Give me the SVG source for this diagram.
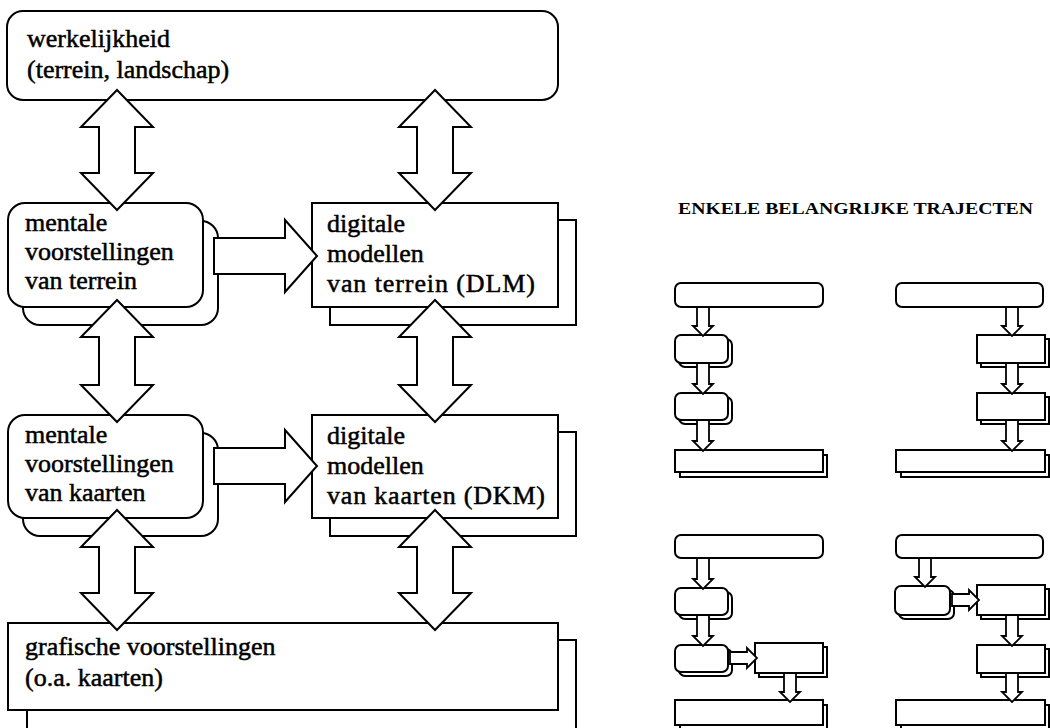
<svg xmlns="http://www.w3.org/2000/svg" width="1050" height="728" viewBox="0 0 1050 728">
  <style>
    .box { fill: #fff; stroke: #000; stroke-width: 2; }
    .arr { fill: #fff; stroke: #000; stroke-width: 2; stroke-linejoin: miter; }
    .mini { fill: #fff; stroke: #000; stroke-width: 2; }
    .marr { fill: #fff; stroke: #000; stroke-width: 1.8; stroke-linejoin: miter; }
    .t { font-family: "Liberation Serif", "Times New Roman", serif; font-size: 26px; fill: #000; stroke: #000; stroke-width: 0.5; }
    .title { font-family: "Liberation Serif", "Times New Roman", serif; font-size: 16px; font-weight: bold; fill: #000; }
  </style>
  <rect width="1050" height="728" fill="#fff"/>

  <!-- main scheme: nodes -->
  <g id="werkelijkheid">
    <rect class="box" x="7" y="11" width="551" height="89" rx="16"/>
    <text class="t" x="27" y="47">werkelijkheid</text>
    <text class="t" x="27" y="78">(terrein, landschap)</text>
  </g>

  <g id="mentaal-terrein">
    <rect class="box" x="23" y="221" width="195" height="104" rx="17"/>
    <rect class="box" x="8" y="203" width="195" height="104" rx="17"/>
    <text class="t" x="25" y="231">mentale</text>
    <text class="t" x="25" y="260">voorstellingen</text>
    <text class="t" x="25" y="289">van terrein</text>
  </g>

  <g id="dlm">
    <rect class="box" x="330" y="220" width="246" height="105"/>
    <rect class="box" x="312" y="203" width="246" height="104"/>
    <text class="t" x="327" y="232">digitale</text>
    <text class="t" x="327" y="262">modellen</text>
    <text class="t" x="327" y="292" textLength="208">van terrein (DLM)</text>
  </g>

  <g id="mentaal-kaarten">
    <rect class="box" x="23" y="433" width="195" height="103" rx="17"/>
    <rect class="box" x="8" y="415" width="195" height="103" rx="17"/>
    <text class="t" x="25" y="443">mentale</text>
    <text class="t" x="25" y="472">voorstellingen</text>
    <text class="t" x="25" y="501">van kaarten</text>
  </g>

  <g id="dkm">
    <rect class="box" x="330" y="432" width="246" height="104"/>
    <rect class="box" x="312" y="415" width="246" height="103"/>
    <text class="t" x="327" y="444">digitale</text>
    <text class="t" x="327" y="474">modellen</text>
    <text class="t" x="327" y="504" textLength="218">van kaarten (DKM)</text>
  </g>

  <g id="grafisch">
    <rect class="box" x="27" y="640" width="549" height="110"/>
    <rect class="box" x="8" y="623" width="550" height="87"/>
    <text class="t" x="25" y="655">grafische voorstellingen</text>
    <text class="t" x="25" y="686">(o.a. kaarten)</text>
  </g>

  <!-- main scheme: block arrows -->
  <g id="connectors">
    <path class="arr" d="M117,90 L153,127 L135,127 L135,173 L153,173 L117,210 L81,173 L99,173 L99,127 L81,127 Z"/>
    <path class="arr" d="M435,90 L471,127 L453,127 L453,173 L471,173 L435,210 L399,173 L417,173 L417,127 L399,127 Z"/>
    <path class="arr" d="M117,300 L153,337 L135,337 L135,385 L153,385 L117,422 L81,385 L99,385 L99,337 L81,337 Z"/>
    <path class="arr" d="M435,300 L471,337 L453,337 L453,385 L471,385 L435,422 L399,385 L417,385 L417,337 L399,337 Z"/>
    <path class="arr" d="M117,510 L153,547 L135,547 L135,593 L153,593 L117,630 L81,593 L99,593 L99,547 L81,547 Z"/>
    <path class="arr" d="M435,510 L471,547 L453,547 L453,593 L471,593 L435,630 L399,593 L417,593 L417,547 L399,547 Z"/>
    <path class="arr" d="M214,238 L285,238 L285,220 L317,256 L285,292 L285,274 L214,274 Z"/>
    <path class="arr" d="M214,448 L285,448 L285,430 L317,466 L285,502 L285,484 L214,484 Z"/>
  </g>

  <!-- legend -->
  <text id="trajecten-titel" class="title" x="678" y="214" textLength="355" lengthAdjust="spacingAndGlyphs">ENKELE BELANGRIJKE TRAJECTEN</text>

  <!-- route 1: terrain -> mental -> mental map -> graphic -->
  <g id="traject-1">
    <rect class="mini" x="675" y="283" width="148" height="24" rx="6"/>
    <rect class="mini" x="679" y="339" width="53" height="28" rx="6"/>
    <rect class="mini" x="675" y="335" width="53" height="28" rx="6"/>
    <rect class="mini" x="679" y="397" width="53" height="27" rx="6"/>
    <rect class="mini" x="675" y="393" width="53" height="27" rx="6"/>
    <rect class="mini" x="680" y="455" width="147" height="22"/>
    <rect class="mini" x="675" y="450" width="148" height="22"/>
    <path class="marr" d="M697,307 L709,307 L709,326 L713,326 L703,336 L693,326 L697,326 Z"/>
    <path class="marr" d="M697,363 L709,363 L709,384 L713,384 L703,394 L693,384 L697,384 Z"/>
    <path class="marr" d="M697,420 L709,420 L709,441 L713,441 L703,451 L693,441 L697,441 Z"/>
  </g>

  <!-- route 2: terrain -> DLM -> DKM -> graphic -->
  <g id="traject-2">
    <rect class="mini" x="896" y="283" width="147" height="24" rx="6"/>
    <rect class="mini" x="981" y="339" width="68" height="28"/>
    <rect class="mini" x="977" y="335" width="68" height="28"/>
    <rect class="mini" x="981" y="397" width="68" height="27"/>
    <rect class="mini" x="977" y="393" width="68" height="27"/>
    <rect class="mini" x="901" y="455" width="148" height="22"/>
    <rect class="mini" x="896" y="450" width="149" height="22"/>
    <path class="marr" d="M1006,307 L1018,307 L1018,326 L1022,326 L1012,336 L1002,326 L1006,326 Z"/>
    <path class="marr" d="M1006,363 L1018,363 L1018,384 L1022,384 L1012,394 L1002,384 L1006,384 Z"/>
    <path class="marr" d="M1006,420 L1018,420 L1018,441 L1022,441 L1012,451 L1002,441 L1006,441 Z"/>
  </g>

  <!-- route 3: terrain -> mental -> mental map -> DKM -> graphic -->
  <g id="traject-3">
    <rect class="mini" x="675" y="535" width="148" height="23" rx="6"/>
    <rect class="mini" x="679" y="592" width="53" height="27" rx="6"/>
    <rect class="mini" x="675" y="588" width="53" height="27" rx="6"/>
    <rect class="mini" x="679" y="649" width="53" height="27" rx="6"/>
    <rect class="mini" x="675" y="645" width="53" height="27" rx="6"/>
    <rect class="mini" x="759" y="647" width="68" height="30"/>
    <rect class="mini" x="755" y="643" width="68" height="30"/>
    <rect class="mini" x="680" y="705" width="147" height="25"/>
    <rect class="mini" x="675" y="700" width="148" height="25"/>
    <path class="marr" d="M697,558 L709,558 L709,579 L713,579 L703,589 L693,579 L697,579 Z"/>
    <path class="marr" d="M697,615 L709,615 L709,636 L713,636 L703,646 L693,636 L697,636 Z"/>
    <path class="marr" d="M730,652 L747,652 L747,648 L757,658 L747,668 L747,664 L730,664 Z"/>
    <path class="marr" d="M784,673 L796,673 L796,692 L800,692 L790,702 L780,692 L784,692 Z"/>
  </g>

  <!-- route 4: terrain -> mental -> DLM -> DKM -> graphic -->
  <g id="traject-4">
    <rect class="mini" x="896" y="535" width="147" height="23" rx="6"/>
    <rect class="mini" x="899" y="590" width="55" height="29" rx="6"/>
    <rect class="mini" x="895" y="586" width="55" height="29" rx="6"/>
    <rect class="mini" x="981" y="589" width="68" height="30"/>
    <rect class="mini" x="977" y="585" width="68" height="30"/>
    <rect class="mini" x="981" y="649" width="68" height="28"/>
    <rect class="mini" x="977" y="645" width="68" height="28"/>
    <rect class="mini" x="901" y="705" width="148" height="25"/>
    <rect class="mini" x="896" y="700" width="149" height="25"/>
    <path class="marr" d="M919,558 L931,558 L931,577 L935,577 L925,587 L915,577 L919,577 Z"/>
    <path class="marr" d="M952,594 L969,594 L969,590 L979,600 L969,610 L969,606 L952,606 Z"/>
    <path class="marr" d="M1006,615 L1018,615 L1018,636 L1022,636 L1012,646 L1002,636 L1006,636 Z"/>
    <path class="marr" d="M1006,673 L1018,673 L1018,692 L1022,692 L1012,702 L1002,692 L1006,692 Z"/>
  </g>
</svg>
